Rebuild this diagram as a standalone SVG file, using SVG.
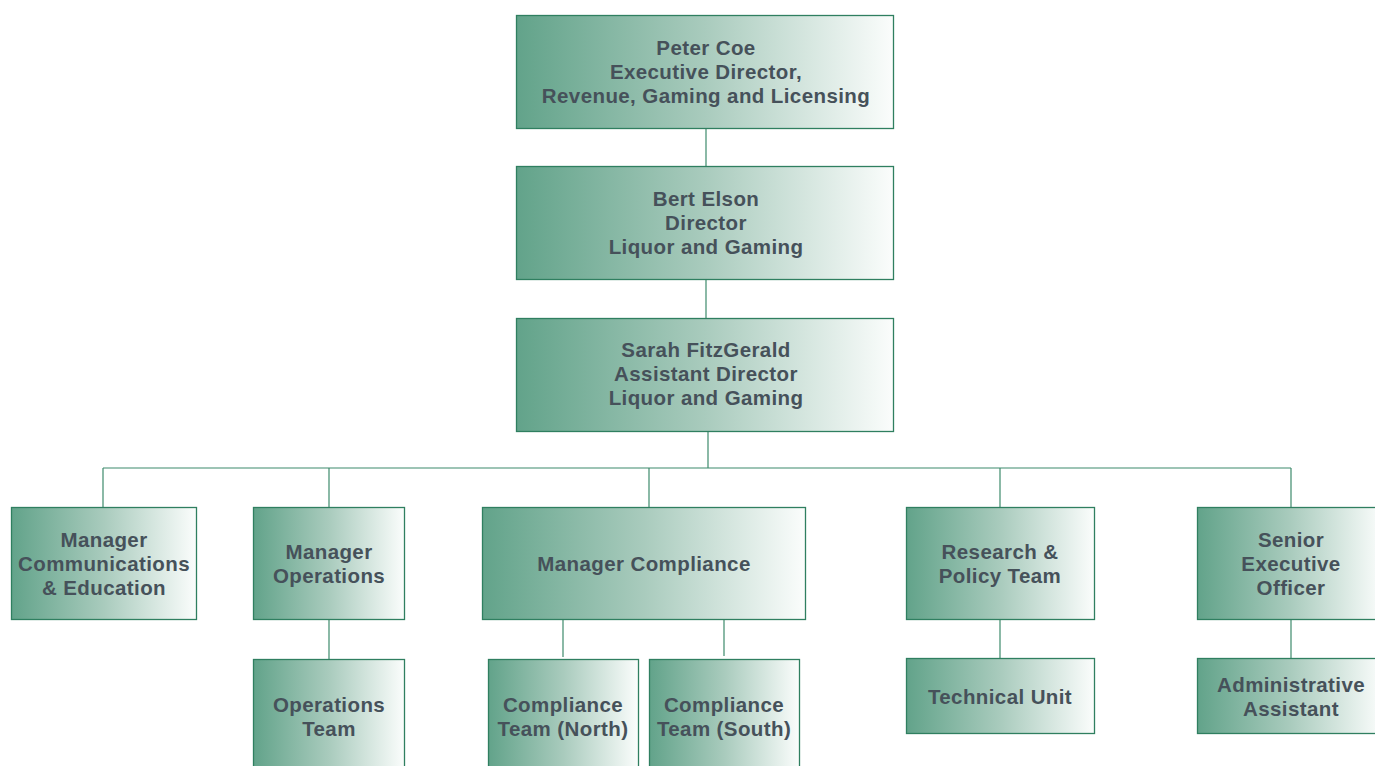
<svg xmlns="http://www.w3.org/2000/svg" width="1375" height="766" viewBox="0 0 1375 766">
<defs>
<linearGradient id="g" x1="0" y1="0" x2="1" y2="0">
<stop offset="0" stop-color="#62a38a"/>
<stop offset="0.5" stop-color="#a9cbbd"/>
<stop offset="1" stop-color="#fbfdfc"/>
</linearGradient>
<style>
.box{fill:url(#g);stroke:#2f7f60;stroke-width:1.3}
.t{font-family:"Liberation Sans",Arial,sans-serif;font-weight:bold;font-size:20.5px;letter-spacing:0.4px;fill:#46515a;text-anchor:middle}
.c{stroke:#3d8a6c;stroke-width:1.2;fill:none}
</style>
</defs>
<rect width="1375" height="766" fill="#ffffff"/>
<g id="connectors">
<line class="c" x1="706" y1="128" x2="706" y2="166"/>
<line class="c" x1="706" y1="279" x2="706" y2="318"/>
<line class="c" x1="708" y1="431" x2="708" y2="468"/>
<line class="c" x1="103" y1="468" x2="1291" y2="468"/>
<line class="c" x1="103" y1="468" x2="103" y2="507"/>
<line class="c" x1="329" y1="468" x2="329" y2="507"/>
<line class="c" x1="649" y1="468" x2="649" y2="507"/>
<line class="c" x1="1000" y1="468" x2="1000" y2="507"/>
<line class="c" x1="1291" y1="468" x2="1291" y2="507"/>
<line class="c" x1="329" y1="619" x2="329" y2="659"/>
<line class="c" x1="563" y1="619" x2="563" y2="657"/>
<line class="c" x1="724" y1="619" x2="724" y2="656"/>
<line class="c" x1="1000" y1="619" x2="1000" y2="658"/>
<line class="c" x1="1291" y1="619" x2="1291" y2="658"/>
</g>
<g id="peter">
<rect class="box" x="516.5" y="15.5" width="377" height="113"/>
<text class="t" x="706" y="55">Peter Coe</text>
<text class="t" x="706" y="79">Executive Director,</text>
<text class="t" x="706" y="103">Revenue, Gaming and Licensing</text>
</g>
<g id="bert">
<rect class="box" x="516.5" y="166.5" width="377" height="113"/>
<text class="t" x="706" y="206">Bert Elson</text>
<text class="t" x="706" y="230">Director</text>
<text class="t" x="706" y="254">Liquor and Gaming</text>
</g>
<g id="sarah">
<rect class="box" x="516.5" y="318.5" width="377" height="113"/>
<text class="t" x="706" y="357">Sarah FitzGerald</text>
<text class="t" x="706" y="381">Assistant Director</text>
<text class="t" x="706" y="405">Liquor and Gaming</text>
</g>
<g id="comm">
<rect class="box" x="11.5" y="507.5" width="185" height="112"/>
<text class="t" x="104" y="547">Manager</text>
<text class="t" x="104" y="571">Communications</text>
<text class="t" x="104" y="595">&amp; Education</text>
</g>
<g id="ops">
<rect class="box" x="253.5" y="507.5" width="151" height="112"/>
<text class="t" x="329" y="559">Manager</text>
<text class="t" x="329" y="583">Operations</text>
</g>
<g id="compliance">
<rect class="box" x="482.5" y="507.5" width="323" height="112"/>
<text class="t" x="644" y="571">Manager Compliance</text>
</g>
<g id="research">
<rect class="box" x="906.5" y="507.5" width="188" height="112"/>
<text class="t" x="1000" y="559">Research &amp;</text>
<text class="t" x="1000" y="583">Policy Team</text>
</g>
<g id="senior">
<rect class="box" x="1197.5" y="507.5" width="185" height="112"/>
<text class="t" x="1291" y="547">Senior</text>
<text class="t" x="1291" y="571">Executive</text>
<text class="t" x="1291" y="595">Officer</text>
</g>
<g id="opsteam">
<rect class="box" x="253.5" y="659.5" width="151" height="120"/>
<text class="t" x="329" y="712">Operations</text>
<text class="t" x="329" y="736">Team</text>
</g>
<g id="north">
<rect class="box" x="488.5" y="659.5" width="150" height="120"/>
<text class="t" x="563" y="712">Compliance</text>
<text class="t" x="563" y="736">Team (North)</text>
</g>
<g id="south">
<rect class="box" x="649.5" y="659.5" width="150" height="120"/>
<text class="t" x="724" y="712">Compliance</text>
<text class="t" x="724" y="736">Team (South)</text>
</g>
<g id="technical">
<rect class="box" x="906.5" y="658.5" width="188" height="75"/>
<text class="t" x="1000" y="704">Technical Unit</text>
</g>
<g id="admin">
<rect class="box" x="1197.5" y="658.5" width="185" height="75"/>
<text class="t" x="1291" y="692">Administrative</text>
<text class="t" x="1291" y="716">Assistant</text>
</g>
</svg>
